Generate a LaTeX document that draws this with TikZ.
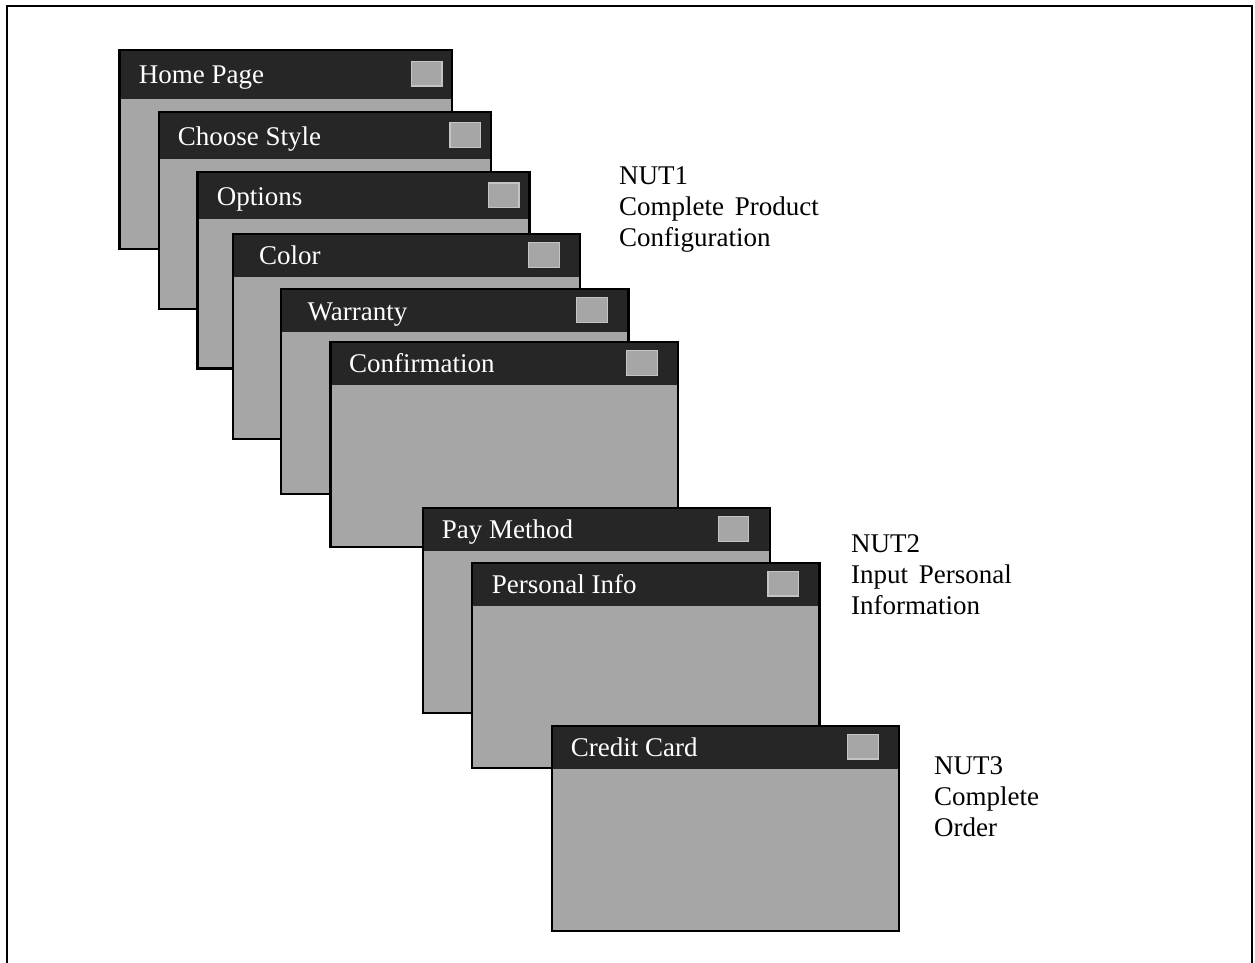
\documentclass[tikz,border=0pt]{standalone}
\usepackage{fontspec}
\setmainfont{Liberation Serif}
\definecolor{bardark}{HTML}{262626}
\definecolor{bodygray}{HTML}{A6A6A6}
\definecolor{btnedge}{HTML}{C4C4C4}
\tikzset{
  winline/.style={draw=black, line width=2.4pt},
  btn/.style={fill=bodygray, draw=btnedge, line width=1.2pt, inner sep=0pt, minimum width=30.5pt, minimum height=24.5pt},
  titletext/.style={text=white, font=\fontsize{27}{31}\selectfont, inner sep=0pt},
  nutlabel/.style={text=black, font=\fontsize{27}{31}\selectfont, inner sep=0pt, align=left, anchor=north west},
}
% #1 name, #2 left, #3 top, #4 right, #5 bottom, #6 title-bar bottom, #7 text x, #8 button right margin, #9 title
\newcommand\screenwin[9]{%
  \fill[bodygray] (#2,#3) rectangle (#4,#5);
  \fill[bardark] (#2,#3) rectangle (#4,#6);
  \draw[winline] (#2,#3) rectangle (#4,#5);
  \coordinate (#1) at (#2,#3);
  \node[btn] (#1-btn) at ({#4-#8-15.75},{(#3+#6)/2-0.5}) {};
  \node[titletext, anchor=base west] (#1-title) at (#7,{(#3+#6)/2+9.5}) {#9};
}
\begin{document}
\begin{tikzpicture}[x=1pt,y=-1pt]
\useasboundingbox (0,0) rectangle (1255,962);
\begin{scope}
\clip (0,0) rectangle (1255,962);
\draw[line width=2.2pt] (7,6) rectangle (1252,990);
\end{scope}
\screenwin{home}{119.5}{50}{452}{249}{98.5}{138.7}{9.5}{Home Page}
\screenwin{style}{159}{112}{491}{308.7}{159}{177.7}{10}{Choose Style}
\screenwin{options}{197.5}{172}{529.5}{368.5}{219.3}{216.7}{10}{Options}
\screenwin{color}{233}{234}{580}{438.7}{276.7}{259}{20.3}{Color}
\screenwin{warranty}{281}{289}{628.3}{493.7}{332}{307.3}{20.5}{Warranty}
\screenwin{confirm}{330.3}{342}{678}{547}{384.7}{349}{20.3}{Confirmation}
\screenwin{pay}{422.7}{508}{770}{712.7}{550.7}{441.7}{20.7}{Pay Method}
\screenwin{personal}{471.7}{562.7}{819.3}{767.7}{605.7}{491.7}{20.3}{Personal Info}
\screenwin{credit}{551.7}{725.7}{899}{931}{768.7}{570.7}{20.3}{Credit Card}
\node[nutlabel] (nut1) at (619,166.5) {NUT1\\Complete\hspace{4pt} Product\\Configuration};
\node[nutlabel] (nut2) at (851,534.5) {NUT2\\Input\hspace{4pt} Personal\\Information};
\node[nutlabel] (nut3) at (934,756.5) {NUT3\\Complete\\Order};
\end{tikzpicture}
\end{document}
